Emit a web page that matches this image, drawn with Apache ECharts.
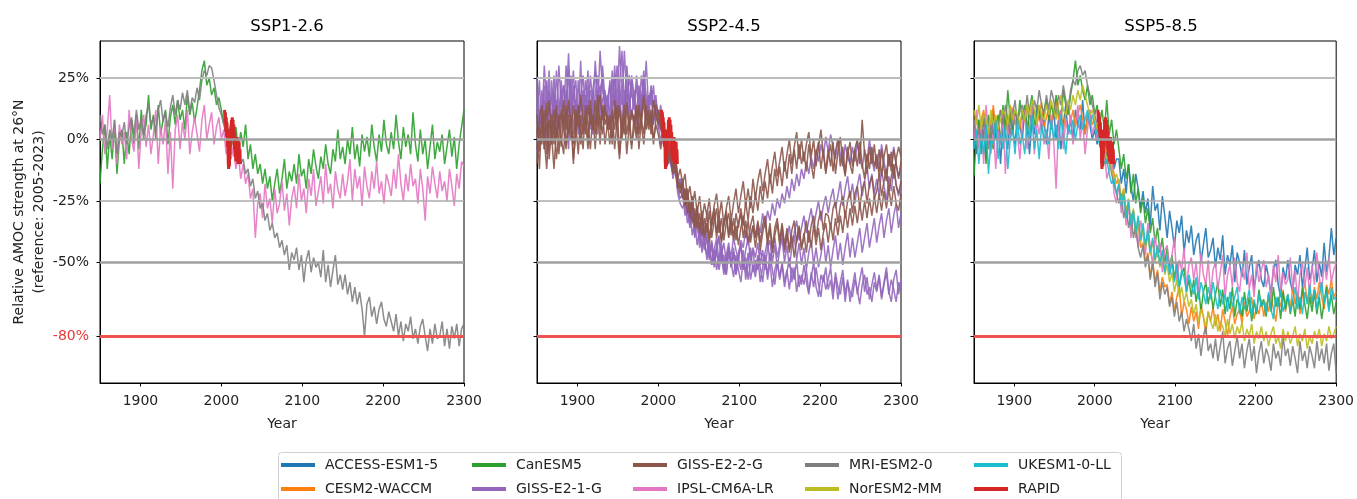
<!DOCTYPE html>
<html>
<head>
<meta charset="utf-8">
<script src="https://cdn.jsdelivr.net/npm/echarts@6/dist/echarts.min.js"></script>
<style>
html,body{margin:0;padding:0;background:#fff;}
#chart{width:1357px;height:499px;}
</style>
</head>
<body>
<div id="chart"></div>
<script>
// ---------------- DATA ----------------
const years = [
1850,1853,1856,1859,1862,1865,1868,1871,1874,1877,
1880,1883,1886,1889,1892,1895,1898,1901,1904,1907,
1910,1913,1916,1919,1922,1925,1928,1931,1934,1937,
1940,1943,1946,1949,1952,1955,1958,1961,1964,1967,
1970,1973,1976,1979,1982,1985,1988,1991,1994,1997,
2000,2003,2006,2009,2012,2015,2018,2021,2024,2027,
2030,2033,2036,2039,2042,2045,2048,2051,2054,2057,
2060,2063,2066,2069,2072,2075,2078,2081,2084,2087,
2090,2093,2096,2099,2102,2105,2108,2111,2114,2117,
2120,2123,2126,2129,2132,2135,2138,2141,2144,2147,
2150,2153,2156,2159,2162,2165,2168,2171,2174,2177,
2180,2183,2186,2189,2192,2195,2198,2201,2204,2207,
2210,2213,2216,2219,2222,2225,2228,2231,2234,2237,
2240,2243,2246,2249,2252,2255,2258,2261,2264,2267,
2270,2273,2276,2279,2282,2285,2288,2291,2294,2297,
2300];
const xTickYears = [1900, 2000, 2100, 2200, 2300];
const yTickValues = [25, 0, -25, -50, -80];
const refLevels = [25, 0, -25, -50, -80];
const panelTitles = ['SSP1-2.6', 'SSP2-4.5', 'SSP5-8.5'];

const rapidYears = [2004,2004.5,2005,2005.5,2006,2006.5,2007,2007.5,2008,2008.5,
2009,2009.5,2010,2010.5,2011,2011.5,2012,2012.5,2013,2013.5,
2014,2014.5,2015,2015.5,2016,2016.5,2017,2017.5,2018,2018.5,
2019,2019.5,2020,2020.5,2021,2021.5,2022,2022.5,2023,2023.5];
const rapidValues = [12,7,11,3,9,1,7,-3,4,-9,
-12,-5,-11,-2,-6,4,0,8,2,9,
4,8,0,6,-4,3,-7,0,-9,-2,
-8,1,-5,-10,-3,-9,-1,-10,-4,-10];

// ---- SSP1-2.6 ----
const ssp126CanESM5 = [
-18,-4,6,-12,2,-8,5,-14,0,4,
-10,3,-6,8,-2,10,-4,12,2,6,
18,4,10,0,14,2,8,12,-2,9,
14,6,16,8,12,4,18,10,15,7,
13,20,28,32,22,25,18,21,14,17,
12,6,9,2,7,-2,5,-4,3,-3,
6,-8,-2,-12,-6,-14,-10,-18,-12,-20,
-15,-25,-18,-12,-22,-16,-8,-20,-13,-17,
-10,-18,-6,-15,-12,-20,-8,-14,-4,-11,
-16,-7,-12,-2,-10,-14,-4,-9,4,-8,
-3,-10,0,-6,5,-8,-2,-11,2,-5,
1,-7,6,-3,-9,2,-5,8,-2,-6,
3,-4,10,-1,-8,5,-3,2,-6,11,
-2,-9,4,-6,0,-12,-3,6,-8,-1,
-5,2,-10,-3,4,-7,1,-12,-2,5,
12];
const ssp126IPSL = [
0,10,-6,4,18,-4,8,-10,6,-2,
3,-8,12,0,-5,9,-12,4,10,-3,
6,-6,2,12,-10,5,-2,8,-14,3,
-20,4,10,-4,7,0,12,-6,3,9,
2,-5,8,14,0,6,11,-2,5,9,
0,4,-6,2,-8,-3,-12,-6,-16,-10,
-18,-14,-24,-20,-40,-26,-22,-32,-18,-28,
-24,-34,-20,-30,-26,-17,-29,-22,-35,-24,
-19,-28,-14,-25,-20,-30,-16,-23,-12,-27,
-21,-15,-26,-10,-22,-18,-28,-13,-20,-24,
-14,-23,-17,-8,-25,-12,-20,-15,-27,-11,
-19,-24,-13,-20,-9,-22,-17,-26,-14,-18,
-23,-12,-20,-6,-18,-25,-14,-21,-10,-19,
-16,-26,-12,-20,-33,-15,-22,-11,-18,-24,
-13,-21,-17,-25,-12,-19,-27,-14,-20,-9,
-11];
const ssp126MRI = [
10,2,6,-4,4,0,8,-6,3,1,
7,-2,5,9,2,12,4,8,0,10,
14,6,9,3,12,16,7,11,5,13,
18,10,16,12,19,14,20,11,17,15,
21,16,24,28,26,30,29,24,18,13,
10,6,2,4,-3,0,-6,-4,-10,-8,
-14,-12,-19,-16,-24,-21,-28,-26,-33,-30,
-37,-34,-40,-38,-44,-41,-47,-43,-53,-46,
-49,-44,-53,-47,-58,-49,-45,-54,-48,-52,
-50,-56,-45,-58,-51,-60,-53,-47,-59,-55,
-61,-55,-63,-58,-66,-60,-67,-62,-69,-80,
-67,-64,-72,-68,-75,-69,-66,-73,-76,-70,
-74,-78,-71,-80,-74,-82,-75,-78,-72,-81,
-77,-83,-76,-73,-80,-86,-77,-83,-75,-81,
-80,-74,-84,-77,-85,-76,-81,-75,-84,-77,
-75];

// ---- SSP2-4.5 : GISS-E2-1-G members ----
const ssp245GissE21G_m1 = [
20,6,14,-4,24,10,18,2,28,12,
8,22,14,35,10,18,4,24,12,20,
15,28,6,20,12,2,18,26,10,16,
22,10,30,14,38,18,8,24,14,20,
12,26,16,8,22,14,18,6,16,10,
6,-2,8,0,-6,-10,-4,-14,-18,-16,
-20,-28,-24,-34,-27,-38,-31,-36,-44,-37,
-41,-49,-43,-52,-45,-40,-50,-47,-55,-44,
-52,-46,-55,-49,-43,-53,-48,-57,-50,-45,
-54,-47,-52,-58,-49,-55,-46,-53,-59,-50,
-56,-50,-58,-53,-61,-52,-57,-49,-60,-55,
-59,-53,-62,-56,-50,-60,-64,-55,-58,-52,
-61,-57,-65,-54,-60,-63,-56,-66,-58,-62,
-64,-57,-61,-67,-59,-55,-63,-60,-66,-58,
-62,-56,-65,-59,-54,-63,-57,-61,-66,-58,
-61];
const ssp245GissE21G_m2 = [
10,24,2,16,8,28,0,18,6,30,
14,4,20,9,26,2,16,8,32,4,
18,10,26,14,6,20,12,30,16,8,
24,12,18,4,22,36,14,20,10,26,
18,8,22,14,28,10,16,20,6,12,
8,14,2,-4,0,-8,-12,-6,-16,-20,
-18,-26,-21,-31,-25,-35,-29,-38,-33,-42,
-38,-46,-41,-49,-43,-39,-47,-42,-50,-45,
-47,-40,-45,-49,-41,-44,-37,-43,-39,-35,
-40,-34,-38,-30,-36,-29,-33,-26,-31,-24,
-28,-22,-26,-19,-24,-16,-21,-14,-19,-12,
-16,-9,-14,-7,-12,-4,-9,-2,-7,1,
-5,2,-3,-8,0,-6,-11,-2,-7,-10,
-3,-9,-1,-7,-12,-4,-9,0,-8,-13,
-6,-12,-2,-9,-14,-6,-11,-3,-10,-15,
-11];
const ssp245GissE21G_m3 = [
-5,12,4,22,-2,14,6,20,0,10,
24,6,12,-4,16,28,8,14,2,18,
6,22,14,2,18,26,10,16,20,12,
4,16,26,10,20,6,14,30,18,8,
20,12,4,16,24,10,18,14,22,8,
12,4,8,-2,-8,-4,-14,-10,-20,-16,
-24,-20,-30,-35,-27,-39,-32,-41,-36,-45,
-40,-48,-42,-51,-45,-53,-47,-55,-49,-44,
-52,-46,-55,-48,-53,-45,-57,-50,-44,-54,
-49,-53,-44,-51,-46,-41,-50,-45,-40,-48,
-43,-38,-46,-40,-35,-44,-38,-33,-41,-36,
-31,-38,-33,-28,-36,-30,-25,-33,-27,-23,
-30,-24,-20,-28,-23,-17,-27,-20,-15,-24,
-18,-26,-19,-14,-23,-17,-11,-20,-14,-22,
-16,-23,-12,-19,-25,-15,-21,-11,-18,-23,
-19];
const ssp245GissE21G_m4 = [
15,0,20,8,12,-4,24,10,16,4,
20,10,30,14,6,22,12,2,18,26,
10,16,4,20,28,12,36,20,14,18,
8,24,14,30,16,4,20,12,26,18,
14,22,10,26,16,32,12,20,8,16,
10,4,0,-6,2,-10,-14,-8,-20,-24,
-22,-31,-26,-36,-30,-40,-34,-44,-37,-42,
-47,-41,-51,-45,-53,-48,-42,-52,-55,-46,
-50,-56,-47,-53,-58,-49,-54,-46,-57,-51,
-56,-48,-58,-52,-47,-57,-50,-60,-53,-49,
-57,-51,-60,-54,-48,-58,-52,-62,-55,-59,
-51,-58,-63,-54,-60,-52,-59,-64,-55,-61,
-57,-52,-62,-56,-65,-58,-53,-63,-57,-66,
-60,-54,-63,-57,-52,-62,-56,-65,-59,-54,
-61,-55,-64,-58,-52,-62,-66,-57,-53,-63,
-57];
const ssp245GissE21G_m5 = [
25,10,6,30,14,20,4,26,12,8,
18,22,6,28,12,18,24,4,14,10,
24,14,20,10,32,16,22,8,18,14,
12,28,18,6,22,14,36,16,10,24,
16,6,20,12,26,18,10,22,14,18,
4,10,-2,2,-10,-6,-16,-12,-22,-26,
-28,-25,-34,-30,-39,-33,-43,-37,-46,-40,
-49,-43,-51,-45,-40,-50,-44,-53,-47,-42,
-50,-44,-53,-46,-42,-52,-45,-40,-49,-44,
-48,-42,-51,-45,-53,-44,-41,-50,-43,-52,
-45,-40,-50,-43,-52,-44,-39,-49,-42,-51,
-44,-53,-46,-41,-51,-44,-52,-47,-40,-50,
-43,-52,-45,-39,-49,-42,-51,-44,-38,-48,
-40,-48,-42,-36,-46,-40,-34,-44,-38,-32,
-42,-35,-30,-40,-33,-28,-38,-31,-26,-36,
-30];
// ---- SSP2-4.5 : GISS-E2-2-G members ----
const ssp245GissE22G_m1 = [
10,-5,8,2,15,-8,5,12,0,8,
-3,10,4,16,6,-2,12,5,18,8,
2,14,6,10,-4,12,18,8,14,4,
10,-2,16,6,12,0,8,15,4,11,
6,14,2,10,18,8,12,4,16,10,
6,12,2,-4,4,-8,-12,-6,-16,-12,
-18,-14,-24,-19,-27,-21,-30,-23,-33,-26,
-31,-24,-35,-27,-22,-32,-25,-35,-28,-23,
-33,-26,-20,-30,-23,-17,-27,-20,-28,-16,
-24,-17,-12,-21,-14,-8,-18,-11,-5,-15,
-9,-3,-13,-6,0,-10,-3,3,-8,0,
-9,-2,3,-7,0,-11,-3,4,-6,-13,
-4,-11,-1,-14,-5,1,-9,-15,-3,-10,
-14,-4,-11,-1,-10,-16,-6,-12,-3,-11,
-7,-15,-4,-12,-17,-6,-13,-4,-10,-16,
-9];
const ssp245GissE22G_m2 = [
-10,5,-2,12,-6,8,2,-12,4,10,
0,-6,14,2,8,-10,6,12,-2,6,
10,0,16,4,8,12,-2,14,6,10,
4,12,-4,8,14,2,10,-6,6,12,
8,0,12,6,16,4,10,2,8,14,
10,4,8,-2,-8,-4,-14,-10,-18,-22,
-18,-27,-22,-32,-26,-36,-29,-38,-32,-40,
-34,-42,-35,-30,-40,-33,-42,-35,-31,-40,
-33,-40,-30,-36,-28,-35,-25,-33,-23,-30,
-22,-29,-19,-26,-17,-24,-14,-22,-12,-19,
-11,-19,-9,-16,-6,-14,-4,-12,-2,-10,
-5,-13,-2,-10,-16,-6,-1,-12,-4,-14,
-7,-2,-13,-5,0,-11,-3,-14,-6,-1,
-11,-4,0,-10,8,-6,-14,-3,-10,-2,
-12,-4,-15,-7,-2,-11,-5,-16,-8,-3,
-7];
const ssp245GissE22G_m3 = [
4,-12,10,-4,6,16,-2,8,-8,2,
12,4,-4,10,0,14,6,-6,10,2,
8,-4,12,4,16,6,10,2,12,8,
-2,10,4,14,-6,8,2,12,6,-4,
10,2,14,6,-2,10,4,12,0,6,
2,-4,6,-2,-10,-6,-14,-12,-20,-18,
-24,-20,-30,-25,-34,-28,-36,-30,-39,-32,
-38,-29,-40,-33,-28,-38,-32,-41,-34,-30,
-39,-32,-41,-34,-30,-40,-33,-42,-35,-31,
-40,-33,-42,-35,-31,-41,-34,-44,-36,-32,
-41,-34,-43,-36,-45,-37,-33,-42,-35,-44,
-40,-33,-42,-35,-31,-40,-33,-29,-37,-30,
-31,-36,-28,-25,-34,-27,-23,-32,-25,-21,
-30,-22,-19,-28,-20,-17,-26,-18,-15,-24,
-21,-14,-23,-17,-12,-21,-15,-10,-19,-22,
-17];
const ssp245GissE22G_m4 = [
-4,8,14,0,-12,6,10,-2,14,-6,
6,16,-2,4,10,-8,2,14,4,-4,
14,6,-4,10,2,18,4,12,-2,6,
8,0,12,4,-8,6,14,2,10,-2,
4,12,-4,8,2,14,6,10,-2,8,
12,6,0,4,-6,-2,-12,-8,-16,-20,
-16,-25,-20,-30,-23,-33,-27,-36,-29,-38,
-30,-40,-33,-28,-38,-31,-41,-34,-29,-39,
-32,-41,-35,-43,-36,-31,-40,-33,-42,-35,
-44,-36,-45,-38,-33,-43,-36,-46,-39,-34,
-43,-35,-45,-38,-46,-39,-48,-41,-36,-45,
-38,-46,-37,-44,-35,-43,-36,-45,-38,-34,
-42,-34,-41,-32,-39,-31,-38,-29,-36,-28,
-35,-27,-34,-26,-33,-25,-32,-24,-31,-23,
-30,-22,-29,-21,-28,-20,-27,-19,-26,-29,
-22];

// ---- SSP5-8.5 ----
const ssp585ACCESS = [
2,-6,8,-2,10,-8,4,-4,12,0,
6,-10,8,2,-4,14,4,-2,10,6,
0,12,6,-6,8,2,14,10,4,8,
-2,10,4,12,0,8,-4,6,14,2,
8,0,12,6,4,16,2,10,6,0,
4,-2,6,-4,2,-6,-10,-4,-12,-8,
-8,-18,-12,-22,-10,-19,-25,-14,-20,-28,
-21,-30,-24,-35,-19,-29,-26,-37,-23,-31,
-40,-29,-36,-44,-33,-38,-31,-46,-37,-42,
-35,-47,-41,-38,-50,-43,-36,-48,-45,-40,
-52,-44,-49,-39,-55,-47,-51,-43,-58,-46,
-50,-56,-45,-59,-52,-47,-61,-54,-49,-57,
-60,-51,-56,-63,-53,-49,-59,-64,-52,-57,
-49,-58,-62,-51,-55,-47,-60,-53,-44,-57,
-53,-45,-58,-50,-56,-42,-54,-48,-36,-47,
-40];
const ssp585CESM2 = [
6,10,2,8,12,4,9,6,14,3,
8,12,5,10,2,9,13,6,10,4,
11,7,14,3,9,12,6,10,15,5,
9,13,6,11,16,8,12,4,10,14,
7,12,5,10,14,8,2,9,12,6,
8,2,6,-2,-6,-4,-10,-8,-14,-18,
-16,-24,-20,-30,-26,-36,-30,-40,-34,-44,
-42,-50,-46,-56,-49,-58,-53,-62,-56,-60,
-59,-67,-62,-70,-64,-60,-72,-66,-69,-75,
-68,-74,-70,-77,-67,-72,-79,-70,-74,-68,
-76,-71,-78,-69,-74,-80,-72,-68,-75,-71,
-69,-75,-66,-72,-70,-64,-73,-68,-71,-65,
-72,-66,-70,-63,-69,-74,-65,-68,-61,-70,
-64,-69,-60,-67,-62,-71,-63,-58,-66,-62,
-67,-60,-65,-58,-64,-69,-59,-63,-57,-64,
-62];
const ssp585CanESM5 = [
-15,2,8,-6,4,-10,10,0,-4,6,
10,-2,14,4,20,8,2,12,6,16,
8,14,2,12,18,6,10,14,4,12,
16,8,14,10,18,12,6,20,14,10,
18,24,32,22,26,20,16,22,14,18,
10,14,6,12,4,16,2,8,-2,4,
-4,-12,-6,-16,-10,-22,-14,-26,-20,-30,
-24,-34,-28,-38,-32,-42,-36,-46,-40,-50,
-44,-52,-47,-57,-50,-60,-55,-52,-62,-57,
-64,-57,-66,-60,-70,-62,-58,-67,-61,-69,
-63,-58,-68,-61,-71,-64,-69,-60,-72,-65,
-67,-72,-62,-70,-64,-74,-66,-71,-61,-68,
-65,-72,-63,-70,-60,-68,-64,-73,-62,-69,
-63,-71,-65,-72,-62,-69,-60,-67,-73,-64,
-70,-62,-71,-64,-73,-66,-60,-69,-63,-71,
-66];
const ssp585IPSL = [
0,12,-4,8,-10,14,2,-6,6,-12,
4,-2,10,-14,6,0,12,8,2,-8,
6,12,-4,4,14,-6,8,2,10,-2,
4,-8,10,0,-20,6,12,-4,8,2,
10,-2,6,14,0,8,-6,4,12,2,
6,0,4,-8,-4,-16,-12,-8,-22,-26,
-18,-30,-22,-35,-26,-40,-29,-36,-44,-33,
-38,-47,-34,-44,-51,-39,-48,-42,-54,-45,
-43,-55,-47,-40,-58,-49,-53,-44,-60,-51,
-48,-57,-50,-62,-46,-55,-59,-49,-63,-53,
-50,-61,-54,-47,-64,-55,-51,-60,-48,-58,
-62,-52,-57,-46,-61,-55,-64,-50,-58,-53,
-49,-60,-55,-65,-51,-58,-47,-62,-54,-59,
-57,-48,-61,-53,-66,-55,-50,-60,-52,-63,
-51,-59,-46,-56,-62,-50,-57,-48,-58,-53,
-50];
const ssp585MRI = [
8,0,4,-2,10,3,-4,6,2,8,
4,12,6,14,8,2,10,16,6,12,
14,8,18,10,6,16,12,20,14,10,
18,12,20,16,10,18,14,22,16,12,
20,24,22,28,30,26,28,22,18,14,
10,6,2,-2,-6,-10,-8,-14,-18,-22,
-26,-22,-32,-27,-36,-30,-40,-35,-44,-48,
-43,-52,-47,-57,-50,-60,-54,-65,-58,-63,
-60,-68,-64,-72,-66,-74,-70,-78,-73,-77,
-82,-75,-85,-79,-88,-80,-76,-86,-83,-89,
-81,-90,-84,-78,-91,-85,-82,-92,-86,-80,
-89,-83,-93,-86,-81,-90,-84,-95,-87,-82,
-91,-85,-88,-94,-83,-89,-86,-92,-80,-88,
-85,-92,-84,-89,-95,-82,-90,-86,-93,-84,
-88,-93,-82,-90,-85,-91,-83,-94,-87,-83,
-95];
const ssp585NorESM2 = [
12,6,14,4,10,8,2,12,6,10,
4,8,12,10,6,14,8,12,10,6,
12,8,14,10,16,12,6,14,10,8,
14,10,16,12,8,14,18,12,10,16,
12,18,14,20,16,22,18,14,10,12,
8,4,6,0,-4,-8,-6,-12,-16,-14,
-18,-26,-20,-30,-24,-34,-28,-38,-32,-42,
-36,-44,-39,-47,-41,-50,-44,-52,-46,-55,
-51,-58,-54,-62,-57,-64,-60,-66,-62,-68,
-65,-71,-67,-74,-69,-72,-76,-70,-74,-77,
-71,-78,-74,-76,-80,-73,-79,-75,-81,-76,
-79,-74,-82,-77,-80,-75,-83,-78,-81,-76,
-82,-78,-84,-79,-76,-83,-80,-85,-77,-82,
-78,-83,-80,-76,-84,-79,-82,-77,-85,-80,
-83,-78,-81,-77,-84,-79,-82,-76,-81,-79,
-76];
const ssp585UKESM = [
-4,4,-10,2,-6,6,-14,0,-2,8,
-8,2,-4,6,-12,0,4,-6,8,-2,
2,-6,6,0,10,-4,4,-8,6,0,
4,-2,8,0,6,-4,10,2,-6,6,
2,8,0,6,10,4,8,12,6,10,
6,2,-2,-6,-10,-8,-14,-18,-16,-22,
-18,-27,-22,-32,-25,-35,-29,-38,-31,-41,
-34,-43,-37,-46,-40,-49,-43,-51,-45,-54,
-47,-55,-50,-58,-51,-60,-53,-56,-62,-55,
-59,-63,-56,-65,-58,-62,-67,-60,-65,-58,
-64,-69,-61,-67,-63,-70,-62,-68,-64,-60,
-71,-64,-69,-66,-61,-72,-65,-70,-63,-68,
-66,-71,-62,-69,-73,-64,-68,-61,-70,-66,
-63,-70,-65,-60,-69,-64,-71,-62,-67,-59,
-66,-61,-69,-63,-58,-67,-62,-70,-60,-65,
-64];

// ---------------- STYLE / LAYOUT ----------------
const FONT = 'DejaVu Sans';
const modelColors = {
  'ACCESS-ESM1-5': '#1f77b4', 'CESM2-WACCM': '#ff7f0e', 'CanESM5': '#2ca02c',
  'GISS-E2-1-G': '#9467bd', 'GISS-E2-2-G': '#8c564b', 'IPSL-CM6A-LR': '#e377c2',
  'MRI-ESM2-0': '#7f7f7f', 'NorESM2-MM': '#bcbd22', 'UKESM1-0-LL': '#17becf', 'RAPID': '#d62728'
};
const refStyles = [
  {color: '#bdbdbd', width: 2, type: 'solid'},
  {color: '#a0a0a0', width: 2.5, type: 'solid'},
  {color: '#ababab', width: 1.5, type: 'solid'},
  {color: '#a0a0a0', width: 2.5, type: 'solid'},
  {color: '#ef5350', width: 3, type: 'solid'}
];
const panelSeries = [
  [['CanESM5', ssp126CanESM5], ['IPSL-CM6A-LR', ssp126IPSL], ['MRI-ESM2-0', ssp126MRI]],
  [['GISS-E2-1-G', ssp245GissE21G_m1], ['GISS-E2-1-G', ssp245GissE21G_m2], ['GISS-E2-1-G', ssp245GissE21G_m3],
   ['GISS-E2-1-G', ssp245GissE21G_m4], ['GISS-E2-1-G', ssp245GissE21G_m5],
   ['GISS-E2-2-G', ssp245GissE22G_m1], ['GISS-E2-2-G', ssp245GissE22G_m2],
   ['GISS-E2-2-G', ssp245GissE22G_m3], ['GISS-E2-2-G', ssp245GissE22G_m4]],
  [['ACCESS-ESM1-5', ssp585ACCESS], ['CESM2-WACCM', ssp585CESM2], ['CanESM5', ssp585CanESM5],
   ['IPSL-CM6A-LR', ssp585IPSL], ['MRI-ESM2-0', ssp585MRI], ['NorESM2-MM', ssp585NorESM2],
   ['UKESM1-0-LL', ssp585UKESM]]
];
const gridLefts = [100, 537, 974];
const gridTop = 41, gridW = 364, gridH = 342;

const grids = [], xAxes = [], yAxes = [], titles = [], series = [];
gridLefts.forEach((gl, i) => {
  grids.push({left: gl, top: gridTop, width: gridW, height: gridH, show: true,
    borderColor: '#000', borderWidth: 1, backgroundColor: 'transparent'});
  titles.push({text: panelTitles[i], left: gl + gridW / 2, top: 13, textAlign: 'center',
    textStyle: {fontFamily: FONT, fontSize: 16.5, fontWeight: 'normal', color: '#000'}});
  xAxes.push({type: 'value', gridIndex: i, min: 1850, max: 2300,
    name: 'Year', nameLocation: 'middle', nameGap: 34,
    nameTextStyle: {fontFamily: FONT, fontSize: 14, color: '#222'},
    axisLine: {show: true, onZero: false, lineStyle: {color: '#000', width: 1}},
    axisTick: {show: true, customValues: xTickYears, length: 3.5, inside: false, lineStyle: {color: '#000'}},
    axisLabel: {show: true, customValues: xTickYears, fontFamily: FONT, fontSize: 14, color: '#222', margin: 11,
      formatter: v => String(v)},
    splitLine: {show: false}});
  yAxes.push({type: 'value', gridIndex: i, min: -99, max: 40,
    name: i === 0 ? 'Relative AMOC strength at 26°N\n(reference: 2005-2023)' : '',
    nameLocation: 'middle', nameGap: 51, nameRotate: 90,
    nameTextStyle: {fontFamily: FONT, fontSize: 14, color: '#222', lineHeight: 19.5},
    axisLine: {show: true, onZero: false, lineStyle: {color: '#000', width: 1}},
    axisTick: {show: true, customValues: yTickValues, length: 3.5, lineStyle: {color: '#000'}},
    axisLabel: {show: i === 0, customValues: yTickValues, fontFamily: FONT, fontSize: 14, margin: 11,
      formatter: v => v + '%',
      color: v => Number(v) === -80 ? '#e53935' : '#222'},
    splitLine: {show: false}});
  series.push({type: 'line', xAxisIndex: i, yAxisIndex: i, data: [], silent: true,
    markLine: {silent: true, symbol: 'none', animation: false, label: {show: false},
      data: refLevels.map((v, k) => ({yAxis: v, lineStyle: refStyles[k]}))}});
  panelSeries[i].forEach(([name, vals]) => {
    series.push({type: 'line', name: name, xAxisIndex: i, yAxisIndex: i,
      data: years.map((y, k) => [y, vals[k]]),
      showSymbol: false, symbol: 'none', silent: true,
      itemStyle: {color: modelColors[name]},
      lineStyle: {color: modelColors[name], width: 1.5, opacity: 0.9}});
  });
  series.push({type: 'line', name: 'RAPID', xAxisIndex: i, yAxisIndex: i,
    data: rapidYears.map((y, k) => [y, rapidValues[k]]),
    showSymbol: false, symbol: 'none', silent: true,
    itemStyle: {color: modelColors['RAPID']},
    lineStyle: {color: modelColors['RAPID'], width: 3}});
});

const legendCols = [['ACCESS-ESM1-5', 'CESM2-WACCM'], ['CanESM5', 'GISS-E2-1-G'],
  ['GISS-E2-2-G', 'IPSL-CM6A-LR'], ['MRI-ESM2-0', 'NorESM2-MM'], ['UKESM1-0-LL', 'RAPID']];
const legendLefts = [281, 472, 633, 805, 974];
const legends = legendCols.map((col, k) => ({
  orient: 'vertical', left: legendLefts[k], top: 457, padding: 0,
  itemWidth: 34, itemHeight: 4, itemGap: 8, icon: 'rect', selectedMode: false,
  textStyle: {fontFamily: FONT, fontSize: 14, color: '#222', lineHeight: 16, padding: [0, 0, 0, 5]},
  data: col
}));

const chart = echarts.init(document.getElementById('chart'), null, {renderer: 'canvas'});
chart.setOption({
  animation: false,
  backgroundColor: '#fff',
  title: titles,
  grid: grids,
  xAxis: xAxes,
  yAxis: yAxes,
  legend: legends,
  graphic: [{type: 'rect', z: 0, silent: true,
    shape: {x: 278.5, y: 452.5, width: 843, height: 70, r: 3},
    style: {fill: '#fff', stroke: '#d0d0d0', lineWidth: 1}}],
  series: series
});
</script>
</body>
</html>
